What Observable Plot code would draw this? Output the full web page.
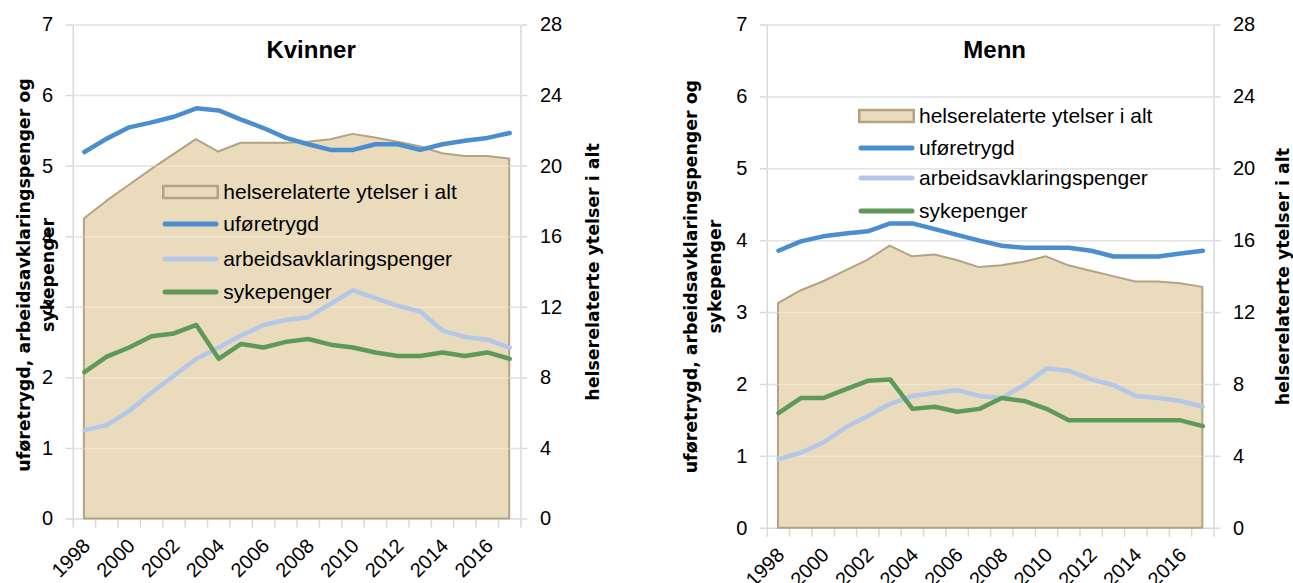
<!DOCTYPE html>
<html><head><meta charset="utf-8">
<script src="https://cdn.jsdelivr.net/npm/d3@7"></script>
<script src="https://cdn.jsdelivr.net/npm/@observablehq/plot@0.6"></script>
<style>
body{margin:0;background:#fff;}
#wrap{position:relative;width:1293px;height:583px;overflow:hidden;font-family:"Liberation Sans",Arial,sans-serif;}
.panel{position:absolute;top:0;}
.legend{position:absolute;top:0;font-size:21px;color:#000;}
.legend .row{position:absolute;left:0;display:flex;align-items:center;white-space:nowrap;height:30px;}
.legend svg{margin-right:4px;}
</style></head><body><div id="wrap"></div><script>
// ---------- data ----------
const years = [1998,1999,2000,2001,2002,2003,2004,2005,2006,2007,2008,2009,2010,2011,2012,2013,2014,2015,2016,2017];
const labelYears = [1998,2000,2002,2004,2006,2008,2010,2012,2014,2016];
const leftTicks = [0,1,2,3,4,5,6,7];
const rightRatio = 4; // right axis 0-28 vs left axis 0-7

const seriesNames = ["helserelaterte ytelser i alt","uføretrygd","arbeidsavklaringspenger","sykepenger"];
const panelTitles = ["Kvinner","Menn"];
const leftAxisTitle = "uføretrygd, arbeidsavklaringspenger og\nsykepenger";
const rightAxisTitle = "helserelaterte ytelser i alt";

// Kvinner
const kvinnerTotal = [17.0,18.0,18.9,19.8,20.65,21.5,20.8,21.3,21.3,21.3,21.35,21.5,21.8,21.6,21.35,21.1,20.7,20.55,20.55,20.4];
const kvinnerUfor  = [5.20,5.39,5.55,5.62,5.70,5.82,5.79,5.66,5.54,5.40,5.31,5.23,5.23,5.31,5.31,5.23,5.31,5.36,5.40,5.47];
const kvinnerAap   = [1.26,1.33,1.53,1.79,2.03,2.27,2.43,2.60,2.75,2.82,2.86,3.05,3.24,3.13,3.02,2.94,2.67,2.58,2.54,2.43];
const kvinnerSyk   = [2.08,2.30,2.43,2.59,2.63,2.75,2.27,2.48,2.43,2.51,2.55,2.47,2.43,2.36,2.31,2.31,2.36,2.31,2.36,2.27];

// Menn
const mennTotal = [12.5,13.2,13.7,14.3,14.9,15.7,15.1,15.2,14.9,14.5,14.6,14.8,15.1,14.6,14.3,14.0,13.7,13.7,13.6,13.4];
const mennUfor  = [3.86,3.99,4.06,4.10,4.13,4.24,4.24,4.16,4.08,4.00,3.93,3.90,3.90,3.90,3.86,3.78,3.78,3.78,3.82,3.86];
const mennAap   = [0.96,1.05,1.19,1.40,1.56,1.73,1.84,1.88,1.92,1.84,1.81,1.99,2.22,2.19,2.07,1.99,1.84,1.81,1.77,1.69];
const mennSyk   = [1.60,1.81,1.81,1.93,2.05,2.07,1.66,1.69,1.62,1.66,1.81,1.77,1.66,1.50,1.50,1.50,1.50,1.50,1.50,1.42];

// ---------- style ----------
const C = {fill:"#eadbbd", areaStroke:"#b3a383", ufor:"#4a8ed0", aap:"#b4c7e7", syk:"#5f995a", grid:"#d9d9d9"};
const tickFont = "Liberation Sans, Arial, sans-serif";
const titleFont = "DejaVu Sans, Verdana, sans-serif";

function panel(o) {
  const rows = years.map((year, i) => ({year, total: o.total[i], ufor: o.ufor[i], aap: o.aap[i], syk: o.syk[i]}));
  const xDomain = [years[0] - 0.5, years[years.length - 1] + 0.5];
  const boundaries = d3.range(xDomain[0], xDomain[1] + 0.01, 1);
  return Plot.plot({
    width: o.width, height: 583,
    marginLeft: o.marginLeft, marginRight: o.marginRight, marginTop: 24.5, marginBottom: o.marginBottom,
    x: {domain: xDomain},
    y: {domain: [0, 7]},
    style: {fontFamily: tickFont, fontSize: "20px", color: "#000", background: "transparent", overflow: "visible"},
    marks: [
      Plot.gridY(leftTicks, {stroke: C.grid, strokeOpacity: 1, strokeWidth: 1.5}),
      Plot.axisY(leftTicks, {anchor: "left", tickSize: 7, tickPadding: 13, stroke: C.grid, strokeWidth: 1.5, label: null, fill: "#000", tickFormat: d => String(d)}),
      Plot.axisY(leftTicks, {anchor: "right", tickSize: 6, tickPadding: 13, stroke: C.grid, strokeWidth: 1.5, label: null, fill: "#000", tickFormat: d => String(d * rightRatio)}),
      Plot.ruleX(xDomain, {stroke: C.grid, strokeWidth: 1.5}),
      Plot.axisX(boundaries, {tickSize: 9, stroke: C.grid, strokeWidth: 1.5, tickFormat: () => "", label: null}),
      Plot.areaY(rows, {x: "year", y: d => d.total / rightRatio, fill: C.fill, stroke: C.areaStroke, strokeWidth: 2}),
      Plot.ruleY(leftTicks.slice(1), {stroke: "#fff", strokeOpacity: 0.3, strokeWidth: 1.5}),
      Plot.lineY(rows, {x: "year", y: "ufor", stroke: C.ufor, strokeWidth: 4.5, strokeLinejoin: "round", strokeLinecap: "round"}),
      Plot.lineY(rows, {x: "year", y: "aap", stroke: C.aap, strokeWidth: 4.5, strokeLinejoin: "round", strokeLinecap: "round"}),
      Plot.lineY(rows, {x: "year", y: "syk", stroke: C.syk, strokeWidth: 4.5, strokeLinejoin: "round", strokeLinecap: "round"}),
      Plot.text(labelYears, {x: d => d, text: d => String(d), frameAnchor: "bottom", rotate: -45, textAnchor: "end", lineAnchor: "top", dx: -3, dy: 18, fontSize: 20, fill: "#000"}),
      Plot.text([o.title], {frameAnchor: "top", lineAnchor: "bottom", dy: 32.8, dx: o.titleDx, fontWeight: "bold", fontSize: 24, fill: "#000"}),
      Plot.text([leftAxisTitle], {frameAnchor: "left", rotate: -90, textAnchor: "middle", lineAnchor: "middle", dx: o.leftDx, dy: o.leftDy, fontWeight: "bold", fontSize: 17.4, fontFamily: titleFont, lineHeight: 1.35, fill: "#000"}),
      Plot.text([rightAxisTitle], {frameAnchor: "right", rotate: -90, textAnchor: "middle", lineAnchor: "middle", dx: o.rightDx, fontWeight: "bold", fontSize: 17.4, fontFamily: titleFont, fill: "#000"})
    ]
  });
}

function legend(left, centers) {
  const div = document.createElement("div");
  div.className = "legend";
  div.style.left = left + "px";
  const kinds = [{t: "area"}, {t: "line", c: C.ufor}, {t: "line", c: C.aap}, {t: "line", c: C.syk}];
  seriesNames.forEach((name, i) => {
    const row = document.createElement("div");
    row.className = "row";
    row.style.top = (centers[i] - 15) + "px";
    const k = kinds[i];
    const sw = k.t === "area"
      ? `<svg width="57" height="16"><rect x="1.25" y="2" width="54.5" height="12" fill="${C.fill}" stroke="${C.areaStroke}" stroke-width="2.5"/></svg>`
      : `<svg width="57" height="16"><line x1="3" x2="54" y1="8" y2="8" stroke="${k.c}" stroke-width="5" stroke-linecap="round"/></svg>`;
    row.innerHTML = sw + `<span>${name}</span>`;
    div.appendChild(row);
  });
  return div;
}

const wrap = document.getElementById("wrap");
const p1 = panel({title: panelTitles[0], total: kvinnerTotal, ufor: kvinnerUfor, aap: kvinnerAap, syk: kvinnerSyk,
  width: 646, marginLeft: 72.7, marginRight: 125.6, marginBottom: 64.5, titleDx: 14, leftDx: -38.5, leftDy: 3, rightDx: 72.6});
p1.classList.add("panel"); p1.style.left = "0px";
wrap.appendChild(p1);
const p2 = panel({title: panelTitles[1], total: mennTotal, ufor: mennUfor, aap: mennAap, syk: mennSyk,
  width: 647, marginLeft: 120.8, marginRight: 79.5, marginBottom: 55.3, titleDx: 4, leftDx: -66, leftDy: 0, rightDx: 69.5});
p2.classList.add("panel"); p2.style.left = "646px";
wrap.appendChild(p2);
wrap.appendChild(legend(162.3, [192, 223.7, 259, 291.7]));
wrap.appendChild(legend(858, [116.3, 147.7, 178.3, 211]));
</script></body></html>
